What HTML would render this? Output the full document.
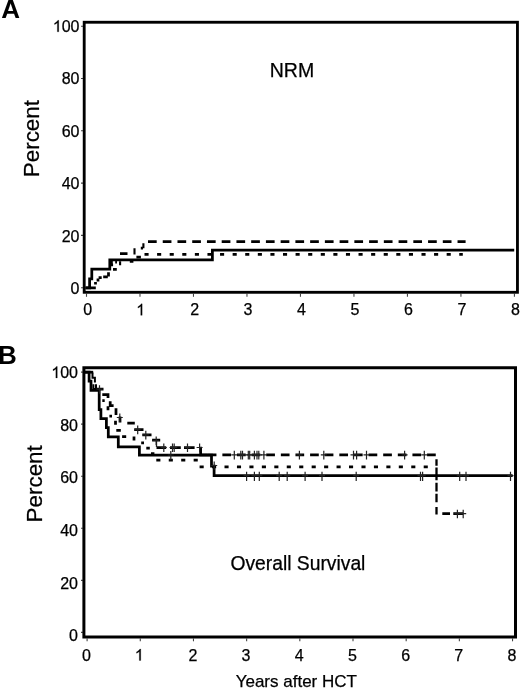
<!DOCTYPE html>
<html><head><meta charset="utf-8"><title>Figure</title>
<style>html,body{margin:0;padding:0;background:#fff;width:520px;height:688px;overflow:hidden;font-family:"Liberation Sans",sans-serif}</style>
</head><body>
<svg width="520" height="688" viewBox="0 0 520 688" style="display:block;will-change:transform">
<rect width="520" height="688" fill="#fff"/>
<g font-family='"Liberation Sans", sans-serif' fill="#000" stroke="#000" stroke-width="0.25">
<line x1="81" y1="287.7" x2="83" y2="287.7" stroke="#444" stroke-width="1.1"/>
<line x1="81" y1="235.4" x2="83" y2="235.4" stroke="#444" stroke-width="1.1"/>
<line x1="81" y1="183.1" x2="83" y2="183.1" stroke="#444" stroke-width="1.1"/>
<line x1="81" y1="130.8" x2="83" y2="130.8" stroke="#444" stroke-width="1.1"/>
<line x1="81" y1="78.5" x2="83" y2="78.5" stroke="#444" stroke-width="1.1"/>
<line x1="81" y1="26.2" x2="83" y2="26.2" stroke="#444" stroke-width="1.1"/>
<line x1="86.5" y1="293.8" x2="86.5" y2="296.8" stroke="#444" stroke-width="1.1"/>
<line x1="139.99" y1="293.8" x2="139.99" y2="296.8" stroke="#444" stroke-width="1.1"/>
<line x1="193.48" y1="293.8" x2="193.48" y2="296.8" stroke="#444" stroke-width="1.1"/>
<line x1="246.97" y1="293.8" x2="246.97" y2="296.8" stroke="#444" stroke-width="1.1"/>
<line x1="300.46" y1="293.8" x2="300.46" y2="296.8" stroke="#444" stroke-width="1.1"/>
<line x1="353.95" y1="293.8" x2="353.95" y2="296.8" stroke="#444" stroke-width="1.1"/>
<line x1="407.44" y1="293.8" x2="407.44" y2="296.8" stroke="#444" stroke-width="1.1"/>
<line x1="460.93" y1="293.8" x2="460.93" y2="296.8" stroke="#444" stroke-width="1.1"/>
<line x1="514.42" y1="293.8" x2="514.42" y2="296.8" stroke="#444" stroke-width="1.1"/>
<text x="79.5" y="31.8" text-anchor="end" font-size="16">00</text>
<path d="M763,0 H583 V1147 Q518,1085 412,1023 T223,930 V1104 Q375,1175 489,1276 T650,1466 H763 Z" transform="translate(52.8,31.8) scale(0.0078125,-0.0078125)" stroke-width="32"/>
<text x="79.5" y="84.28" text-anchor="end" font-size="16">80</text>
<text x="79.5" y="136.76" text-anchor="end" font-size="16">60</text>
<text x="79.5" y="189.24" text-anchor="end" font-size="16">40</text>
<text x="79.5" y="241.72" text-anchor="end" font-size="16">20</text>
<text x="79.5" y="294.2" text-anchor="end" font-size="16">0</text>
<text x="87.6" y="315.3" text-anchor="middle" font-size="16">0</text>
<path d="M763,0 H583 V1147 Q518,1085 412,1023 T223,930 V1104 Q375,1175 489,1276 T650,1466 H763 Z" transform="translate(136.19,315.3) scale(0.0078125,-0.0078125)" stroke-width="32"/>
<text x="194.58" y="315.3" text-anchor="middle" font-size="16">2</text>
<text x="248.07" y="315.3" text-anchor="middle" font-size="16">3</text>
<text x="301.56" y="315.3" text-anchor="middle" font-size="16">4</text>
<text x="355.05" y="315.3" text-anchor="middle" font-size="16">5</text>
<text x="408.54" y="315.3" text-anchor="middle" font-size="16">6</text>
<text x="462.03" y="315.3" text-anchor="middle" font-size="16">7</text>
<text x="515.52" y="315.3" text-anchor="middle" font-size="16">8</text>
<rect x="84.2" y="22.25" width="433.25" height="270.05" fill="none" stroke="#000" stroke-width="2.85"/>
<line x1="81" y1="632.4" x2="82.8" y2="632.4" stroke="#444" stroke-width="1.1"/>
<line x1="81" y1="580.34" x2="82.8" y2="580.34" stroke="#444" stroke-width="1.1"/>
<line x1="81" y1="528.28" x2="82.8" y2="528.28" stroke="#444" stroke-width="1.1"/>
<line x1="81" y1="476.22" x2="82.8" y2="476.22" stroke="#444" stroke-width="1.1"/>
<line x1="81" y1="424.16" x2="82.8" y2="424.16" stroke="#444" stroke-width="1.1"/>
<line x1="81" y1="372.1" x2="82.8" y2="372.1" stroke="#444" stroke-width="1.1"/>
<line x1="87.1" y1="638.5" x2="87.1" y2="641.3" stroke="#444" stroke-width="1.1"/>
<line x1="140.28" y1="638.5" x2="140.28" y2="641.3" stroke="#444" stroke-width="1.1"/>
<line x1="193.46" y1="638.5" x2="193.46" y2="641.3" stroke="#444" stroke-width="1.1"/>
<line x1="246.64" y1="638.5" x2="246.64" y2="641.3" stroke="#444" stroke-width="1.1"/>
<line x1="299.82" y1="638.5" x2="299.82" y2="641.3" stroke="#444" stroke-width="1.1"/>
<line x1="353" y1="638.5" x2="353" y2="641.3" stroke="#444" stroke-width="1.1"/>
<line x1="406.18" y1="638.5" x2="406.18" y2="641.3" stroke="#444" stroke-width="1.1"/>
<line x1="459.36" y1="638.5" x2="459.36" y2="641.3" stroke="#444" stroke-width="1.1"/>
<line x1="512.54" y1="638.5" x2="512.54" y2="641.3" stroke="#444" stroke-width="1.1"/>
<text x="78" y="377.9" text-anchor="end" font-size="16">00</text>
<path d="M763,0 H583 V1147 Q518,1085 412,1023 T223,930 V1104 Q375,1175 489,1276 T650,1466 H763 Z" transform="translate(51.3,377.9) scale(0.0078125,-0.0078125)" stroke-width="32"/>
<text x="78" y="430.56" text-anchor="end" font-size="16">80</text>
<text x="78" y="483.22" text-anchor="end" font-size="16">60</text>
<text x="78" y="535.88" text-anchor="end" font-size="16">40</text>
<text x="78" y="588.54" text-anchor="end" font-size="16">20</text>
<text x="78" y="641.2" text-anchor="end" font-size="16">0</text>
<text x="86.5" y="660.5" text-anchor="middle" font-size="16">0</text>
<path d="M763,0 H583 V1147 Q518,1085 412,1023 T223,930 V1104 Q375,1175 489,1276 T650,1466 H763 Z" transform="translate(134.78,660.5) scale(0.0078125,-0.0078125)" stroke-width="32"/>
<text x="192.86" y="660.5" text-anchor="middle" font-size="16">2</text>
<text x="246.04" y="660.5" text-anchor="middle" font-size="16">3</text>
<text x="299.22" y="660.5" text-anchor="middle" font-size="16">4</text>
<text x="352.4" y="660.5" text-anchor="middle" font-size="16">5</text>
<text x="405.58" y="660.5" text-anchor="middle" font-size="16">6</text>
<text x="458.76" y="660.5" text-anchor="middle" font-size="16">7</text>
<text x="511.94" y="660.5" text-anchor="middle" font-size="16">8</text>
<rect x="83.9" y="367.75" width="431.6" height="269.25" fill="none" stroke="#000" stroke-width="3"/>
<text x="1.3" y="18.4" font-size="26" font-weight="bold" stroke="none">A</text>
<text x="-2" y="363.8" font-size="26" font-weight="bold" stroke="none">B</text>
<text transform="translate(39.1,138.6) rotate(-90)" text-anchor="middle" font-size="22.4">Percent</text>
<text transform="translate(42,483.8) rotate(-90)" text-anchor="middle" font-size="22.4">Percent</text>
<text x="292" y="76.5" text-anchor="middle" font-size="19.5">NRM</text>
<text x="297.9" y="570" text-anchor="middle" font-size="19.3">Overall Survival</text>
<text x="296.3" y="687" text-anchor="middle" font-size="17">Years after HCT</text>
</g>
<path d="M85.5,287.9 H89.6 V278.8 H91.8 V269.2 H109.8 V259.8 H212.4 V250.1 H514.2" fill="none" stroke="#000" stroke-width="2.75" stroke-linejoin="miter" stroke-linecap="butt"/>
<path d="M85.5,287.9 H95.8 M95.5,284.6 V282 M98,281.5 V278.6 M98.6,277.6 H101.7 M103.2,276.9 H107.8 M108.5,276.6 V272.3 M111.7,266.3 V263.6 M113,269.3 H116.8 M110.3,262.3 H112.8 M115.2,262.1 H117 M120,253.7 H127.5 M140.8,248.2 H143 M136.4,257.2 H140.9 M129.8,261.4 H133.4" fill="none" stroke="#000" stroke-width="2.75" stroke-linejoin="miter" stroke-linecap="butt"/>
<path d="M120.1,265.2 V261.2 M134.5,254.5 V248.2 M143.4,248.3 V243.3" fill="none" stroke="#000" stroke-width="2.1" stroke-linejoin="miter" stroke-linecap="butt"/>
<path d="M147.5,241.5 H465.6" fill="none" stroke="#000" stroke-width="2.75" stroke-linejoin="miter" stroke-linecap="butt" stroke-dasharray="8.7 6.04" stroke-dashoffset="14.24"/>
<path d="M144,254.4 H462.8" fill="none" stroke="#000" stroke-width="2.75" stroke-linejoin="miter" stroke-linecap="butt" stroke-dasharray="4.1 8.49" stroke-dashoffset="12.09"/>
<path d="M85,372.2 H89.1 V381.2 H91 V390.4 H99.2 V409.6 H100.9 V418.5 H106.4 V427.7 H108.3 V436.8 H118.3 V446.8 H139.4 V455 H211.5 V466 H214.1 V475.7 H512.6" fill="none" stroke="#000" stroke-width="2.75" stroke-linejoin="miter" stroke-linecap="butt"/>
<path d="M85,372.2 H93.2" fill="none" stroke="#000" stroke-width="2.75" stroke-linejoin="miter" stroke-linecap="butt"/>
<path d="M92.5,372.5 V377.7 H94.9 V382.6 M93.4,384.3 V389 H96 V384.3" fill="none" stroke="#000" stroke-width="2" stroke-linejoin="miter" stroke-linecap="butt"/>
<path d="M96.5,389.2 H103.5 M102.3,394.7 H108 V398 M110.2,401.3 V405.7 H113.6 M116,408.2 V415 M120,416.4 V422.5 M127.3,423 H134.8 M134.2,429.6 H143.5 M142.3,434.8 H151.5 M152.1,440 H160.2 M156.5,447.5 H166.2 M170,447.5 H180.8 M184,447.5 H194.6 M200.6,446.7 V454.8 H207.8 M442.3,513.7 H450 M453.3,513.7 H463.2" fill="none" stroke="#000" stroke-width="2.75" stroke-linejoin="miter" stroke-linecap="butt"/>
<path d="M207.8,454.8 H436.6" fill="none" stroke="#000" stroke-width="2.75" stroke-linejoin="miter" stroke-linecap="butt" stroke-dasharray="8.7 5.92" stroke-dashoffset="0.05"/>
<path d="M436.5,459.3 V465.8 M436.5,467.5 V480.3 M436.5,482.7 V491.6 M436.5,493.8 V502.3 M436.5,507 V514.5" fill="none" stroke="#000" stroke-width="2.3" stroke-linejoin="miter" stroke-linecap="butt"/>
<path d="M102.3,400.5 H104.7 M108,406.2 V410.3 M109.4,416 H112 M115.5,420.7 V424.8 M116.3,430.4 H120.8 M122.1,436.6 H126.2 M134,436.5 V440.6 M141.2,442.8 H144 M146.3,448.1 H149.8 M151,453.5 H154.4" fill="none" stroke="#000" stroke-width="2.75" stroke-linejoin="miter" stroke-linecap="butt"/>
<path d="M156.3,460.2 H199.2" fill="none" stroke="#000" stroke-width="2.75" stroke-linejoin="miter" stroke-linecap="butt" stroke-dasharray="4.1 8.35" stroke-dashoffset="0"/>
<path d="M199.4,466.8 H428.6" fill="none" stroke="#000" stroke-width="2.75" stroke-linejoin="miter" stroke-linecap="butt" stroke-dasharray="4.1 8.35" stroke-dashoffset="12.25"/>
<path d="M156.5,440 V447" stroke="#222" stroke-width="1.3"/>
<path d="M246.6,471.7 v9.2 M243.6,475.7 h6" stroke="#222" stroke-width="1.2" fill="none"/>
<path d="M254.4,471.7 v9.2 M251.4,475.7 h6" stroke="#222" stroke-width="1.2" fill="none"/>
<path d="M259.3,471.7 v9.2 M256.3,475.7 h6" stroke="#222" stroke-width="1.2" fill="none"/>
<path d="M279.2,471.7 v9.2 M276.2,475.7 h6" stroke="#222" stroke-width="1.2" fill="none"/>
<path d="M287.2,471.7 v9.2 M284.2,475.7 h6" stroke="#222" stroke-width="1.2" fill="none"/>
<path d="M305.1,471.7 v9.2 M302.1,475.7 h6" stroke="#222" stroke-width="1.2" fill="none"/>
<path d="M322,471.7 v9.2 M319,475.7 h6" stroke="#222" stroke-width="1.2" fill="none"/>
<path d="M356.2,471.7 v9.2 M353.2,475.7 h6" stroke="#222" stroke-width="1.2" fill="none"/>
<path d="M420.5,471.7 v9.2 M417.5,475.7 h6" stroke="#222" stroke-width="1.2" fill="none"/>
<path d="M422.6,471.7 v9.2 M419.6,475.7 h6" stroke="#222" stroke-width="1.2" fill="none"/>
<path d="M459.7,471.7 v9.2 M456.7,475.7 h6" stroke="#222" stroke-width="1.2" fill="none"/>
<path d="M466,471.7 v9.2 M463,475.7 h6" stroke="#222" stroke-width="1.2" fill="none"/>
<path d="M510.5,471.7 v9.2 M507.5,475.7 h6" stroke="#222" stroke-width="1.2" fill="none"/>
<path d="M170.8,451 v9.2 M167.8,455 h6" stroke="#222" stroke-width="1.2" fill="none"/>
<path d="M99.5,385.2 v8.6 M96.5,389.2 h6" stroke="#222" stroke-width="1.2" fill="none"/>
<path d="M119.8,413.5 v8.6 M116.8,417.5 h6" stroke="#222" stroke-width="1.2" fill="none"/>
<path d="M137.7,425.6 v8.6 M134.7,429.6 h6" stroke="#222" stroke-width="1.2" fill="none"/>
<path d="M145.8,430.8 v8.6 M142.8,434.8 h6" stroke="#222" stroke-width="1.2" fill="none"/>
<path d="M156.2,436.5 v8.6 M153.2,440.5 h6" stroke="#222" stroke-width="1.2" fill="none"/>
<path d="M163.8,443.5 v8.6 M160.8,447.5 h6" stroke="#222" stroke-width="1.2" fill="none"/>
<path d="M172.5,443.5 v8.6 M169.5,447.5 h6" stroke="#222" stroke-width="1.2" fill="none"/>
<path d="M174.2,443.5 v8.6 M171.2,447.5 h6" stroke="#222" stroke-width="1.2" fill="none"/>
<path d="M187.5,443.5 v8.6 M184.5,447.5 h6" stroke="#222" stroke-width="1.2" fill="none"/>
<path d="M199.6,443.5 v8.6 M196.6,447.5 h6" stroke="#222" stroke-width="1.2" fill="none"/>
<path d="M234.3,450.8 v8.6 M231.3,454.8 h6" stroke="#222" stroke-width="1.2" fill="none"/>
<path d="M240.8,450.8 v8.6 M237.8,454.8 h6" stroke="#222" stroke-width="1.2" fill="none"/>
<path d="M242.5,450.8 v8.6 M239.5,454.8 h6" stroke="#222" stroke-width="1.2" fill="none"/>
<path d="M248.3,450.8 v8.6 M245.3,454.8 h6" stroke="#222" stroke-width="1.2" fill="none"/>
<path d="M249.7,450.8 v8.6 M246.7,454.8 h6" stroke="#222" stroke-width="1.2" fill="none"/>
<path d="M254.4,450.8 v8.6 M251.4,454.8 h6" stroke="#222" stroke-width="1.2" fill="none"/>
<path d="M257,450.8 v8.6 M254,454.8 h6" stroke="#222" stroke-width="1.2" fill="none"/>
<path d="M258.8,450.8 v8.6 M255.8,454.8 h6" stroke="#222" stroke-width="1.2" fill="none"/>
<path d="M263.9,450.8 v8.6 M260.9,454.8 h6" stroke="#222" stroke-width="1.2" fill="none"/>
<path d="M299.4,450.8 v8.6 M296.4,454.8 h6" stroke="#222" stroke-width="1.2" fill="none"/>
<path d="M323.8,450.8 v8.6 M320.8,454.8 h6" stroke="#222" stroke-width="1.2" fill="none"/>
<path d="M353.5,450.8 v8.6 M350.5,454.8 h6" stroke="#222" stroke-width="1.2" fill="none"/>
<path d="M356.6,450.8 v8.6 M353.6,454.8 h6" stroke="#222" stroke-width="1.2" fill="none"/>
<path d="M366.5,450.8 v8.6 M363.5,454.8 h6" stroke="#222" stroke-width="1.2" fill="none"/>
<path d="M404.6,450.8 v8.6 M401.6,454.8 h6" stroke="#222" stroke-width="1.2" fill="none"/>
<path d="M424.3,450.8 v8.6 M421.3,454.8 h6" stroke="#222" stroke-width="1.2" fill="none"/>
<path d="M457.4,509.7 v8.6 M454.4,513.7 h6" stroke="#222" stroke-width="1.2" fill="none"/>
<path d="M463.2,509.7 v8.6 M460.2,513.7 h6" stroke="#222" stroke-width="1.2" fill="none"/>
<path d="M214.2,461.5 v8.6 M211.2,465.5 h6" stroke="#222" stroke-width="1.2" fill="none"/>
</svg>
</body></html>
